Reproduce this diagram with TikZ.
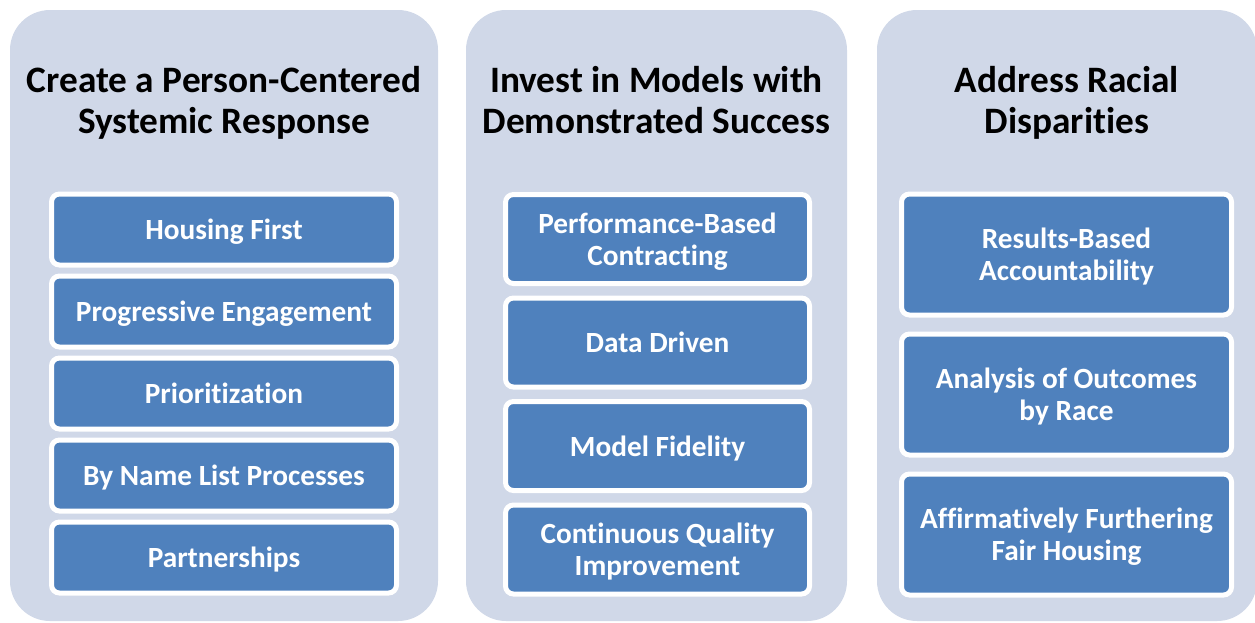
\documentclass[tikz,border=0pt]{standalone}
\usepackage{fontspec}
\setmainfont{Carlito}[Ligatures=NoCommon]
\usetikzlibrary{positioning}
\definecolor{panelgray}{RGB}{208,216,232}
\definecolor{itemblue}{RGB}{79,129,189}

\begin{document}
\begin{tikzpicture}[x=1pt, y=-1pt,
  panel/.style={fill=panelgray, rounded corners=40pt, inner sep=0pt, minimum height=611pt},
  head/.style={font=\bfseries\fontsize{37.3}{41}\selectfont, align=center, text depth=0pt},
  item/.style={fill=itemblue, draw=white, line width=5pt, rounded corners=8pt, text=white,
    font=\bfseries\fontsize{29.3}{32}\selectfont, align=center, inner sep=0pt, text depth=0pt}]
  \useasboundingbox (0,0) rectangle (1255,622);

  \node[panel, minimum width=428pt] (colA) at (224,315.5) {};
  \node[panel, minimum width=381pt] (colB) at (656.5,315.5) {};
  \node[panel, minimum width=380pt] (colC) at (1067,315.5) {};

  \node[head] (headA) at (224,99.5) {Create a Person-Centered\\Systemic Response};
  \node[head] (headB) at (656.5,99.5) {Invest in Models with\\Demonstrated Success};
  \node[head] (headC) at (1067,99.5) {Address Racial\\Disparities};

  % first column
  \tikzset{node distance=6pt, every node/.append style={minimum width=345pt, minimum height=71pt}}
  \node[item] (hf) at (224,229.5) {Housing First};
  \node[item, below=of hf] (pe) {Progressive Engagement};
  \node[item, below=of pe] (pr) {Prioritization};
  \node[item, below=of pr] (bn) {By Name List Processes};
  \node[item, below=of bn] (pa) {Partnerships};

  % second column
  \tikzset{node distance=9.5pt, every node/.append style={minimum width=304pt, minimum height=89pt}}
  \node[item] (pb) at (657.5,239) {Performance-Based\\Contracting};
  \node[item, below=of pb] (dd) {Data Driven};
  \node[item, below=of dd] (mf) {Model Fidelity};
  \node[item, below=of mf] (cq) {Continuous Quality\\Improvement};

  % third column
  \tikzset{node distance=14pt, every node/.append style={minimum width=330pt, minimum height=121pt}}
  \node[item] (rb) at (1066.5,254.5) {Results-Based\\Accountability};
  \node[item, below=of rb] (ao) {Analysis of Outcomes\\by Race};
  \node[item, below=of ao] (af) {Affirmatively Furthering\\Fair Housing};
\end{tikzpicture}
\end{document}
